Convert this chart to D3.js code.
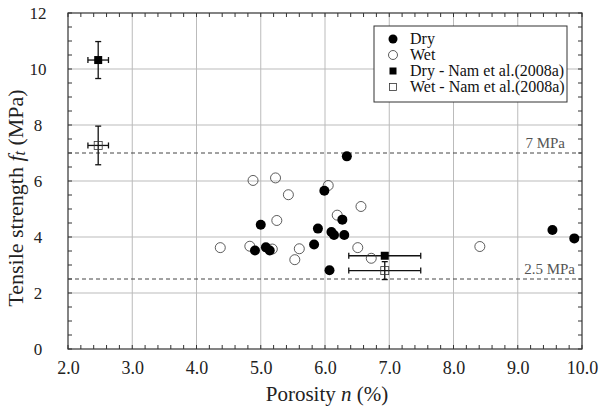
<!DOCTYPE html>
<html>
<head>
<meta charset="utf-8">
<script src="https://cdn.jsdelivr.net/npm/d3@7"></script>
<style>
body { margin: 0; background: #fff; }
</style>
</head>
<body>
<div id="chart"></div>
<script>
// porosity (%) and tensile strength (MPa)
let dryN = [6.34, 5.99, 5.0, 5.89, 6.27, 6.10, 6.14, 6.30, 5.83, 4.91, 5.08, 5.14, 6.07, 9.54, 9.88];
let dryF = [6.88, 5.65, 4.44, 4.30, 4.62, 4.18, 4.07, 4.07, 3.73, 3.52, 3.63, 3.52, 2.81, 4.25, 3.95];
let wetN = [4.88, 5.23, 6.05, 5.43, 6.56, 6.19, 5.25, 4.37, 4.83, 5.18, 5.60, 5.53, 6.51, 6.72, 8.41];
let wetF = [6.02, 6.11, 5.84, 5.51, 5.09, 4.78, 4.59, 3.62, 3.67, 3.57, 3.58, 3.19, 3.62, 3.24, 3.66];
// Nam et al. (2008a): value, x error, y error
let namDryN = [2.47, 6.93], namDryF = [10.32, 3.33], namDryEx = [0.16, 0.56], namDryEy = [0.66, 0];
let namWetN = [2.47, 6.93], namWetF = [7.27, 2.80], namWetEx = [0.16, 0.56], namWetEy = [0.69, 0.32];
let xTicks = [2, 3, 4, 5, 6, 7, 8, 9, 10];
let yTicks = [0, 2, 4, 6, 8, 10, 12];
let refLines = [7, 2.5];
let refLabels = ['7 MPa', '2.5 MPa'];
let legendLabels = ['Dry', 'Wet', 'Dry - Nam et al.(2008a)', 'Wet - Nam et al.(2008a)'];

const FONT = 'Liberation Serif';
let width = 600, height = 409;
let margin = {left: 68, right: 18, top: 13, bottom: 60};

let svg = d3.select('#chart').append('svg')
    .attr('width', width)
    .attr('height', height);

let x = d3.scaleLinear().domain([2, 10]).range([margin.left, width - margin.right]);
let y = d3.scaleLinear().domain([0, 12]).range([height - margin.bottom, margin.top]);

// grid
let grid = svg.append('g').attr('stroke', '#bbb').attr('stroke-width', 1);
grid.selectAll('.gx').data(xTicks.slice(1, -1)).enter().append('line')
    .attr('x1', d => x(d)).attr('x2', d => x(d))
    .attr('y1', y(0)).attr('y2', y(12));
grid.selectAll('.gy').data(yTicks.slice(1, -1)).enter().append('line')
    .attr('y1', d => y(d)).attr('y2', d => y(d))
    .attr('x1', x(2)).attr('x2', x(10));

// minor / major ticks pointing inward on all sides
let xMinor = d3.range(2, 10.001, 0.2);
let yMinor = d3.range(0, 12.001, 0.5);
let tk = svg.append('g').attr('stroke', '#333').attr('stroke-width', 1);
xMinor.forEach(v => {
    tk.append('line').attr('x1', x(v)).attr('x2', x(v)).attr('y1', y(0)).attr('y2', y(0) - 4);
    tk.append('line').attr('x1', x(v)).attr('x2', x(v)).attr('y1', y(12)).attr('y2', y(12) + 4);
});
yMinor.forEach(v => {
    tk.append('line').attr('y1', y(v)).attr('y2', y(v)).attr('x1', x(2)).attr('x2', x(2) + 4);
    tk.append('line').attr('y1', y(v)).attr('y2', y(v)).attr('x1', x(10)).attr('x2', x(10) - 4);
});

// axes labels via d3 axes
let xAxis = svg.append('g')
    .attr('transform', `translate(0,${y(0)})`)
    .call(d3.axisBottom(x).tickValues(xTicks).tickFormat(d3.format('.1f')).tickSize(0).tickPadding(12));
let yAxis = svg.append('g')
    .attr('transform', `translate(${x(2)},0)`)
    .call(d3.axisLeft(y).tickValues(yTicks).tickSize(0).tickPadding(20));
[xAxis, yAxis].forEach(a => {
    a.attr('font-family', null).attr('font-size', null);
    a.select('.domain').remove();
    a.selectAll('text').attr('fill', '#222')
        .attr('font-family', FONT).attr('font-size', 18);
});
yAxis.selectAll('text').attr('text-anchor', 'middle').attr('x', -30).attr('font-size', 17);

// frame
svg.append('rect')
    .attr('x', x(2)).attr('y', y(12))
    .attr('width', x(10) - x(2)).attr('height', y(0) - y(12))
    .attr('fill', 'none').attr('stroke', '#333').attr('stroke-width', 1.2);

// reference lines
svg.append('g').selectAll('line').data(refLines).enter().append('line')
    .attr('x1', x(2)).attr('x2', x(10))
    .attr('y1', d => y(d)).attr('y2', d => y(d))
    .attr('stroke', '#444').attr('stroke-width', 1)
    .attr('stroke-dasharray', '4,3');
svg.append('g').selectAll('text').data(refLines).enter().append('text')
    .attr('x', (d, i) => x(10) - (i === 0 ? 17 : 7)).attr('y', d => y(d) - 5)
    .attr('text-anchor', 'end')
    .attr('font-family', FONT)
    .attr('font-size', 15).attr('fill', '#555')
    .text((d, i) => refLabels[i]);

// error bars
function errorBars(ns, fs, ex, ey) {
    let g = svg.append('g').attr('stroke', '#111').attr('stroke-width', 1.3);
    ns.forEach((n, i) => {
        if (ex[i] > 0) {
            g.append('line').attr('x1', x(n - ex[i])).attr('x2', x(n + ex[i])).attr('y1', y(fs[i])).attr('y2', y(fs[i]));
            g.append('line').attr('x1', x(n - ex[i])).attr('x2', x(n - ex[i])).attr('y1', y(fs[i]) - 3).attr('y2', y(fs[i]) + 3);
            g.append('line').attr('x1', x(n + ex[i])).attr('x2', x(n + ex[i])).attr('y1', y(fs[i]) - 3).attr('y2', y(fs[i]) + 3);
        }
        if (ey[i] > 0) {
            g.append('line').attr('x1', x(n)).attr('x2', x(n)).attr('y1', y(fs[i] - ey[i])).attr('y2', y(fs[i] + ey[i]));
            g.append('line').attr('x1', x(n) - 3).attr('x2', x(n) + 3).attr('y1', y(fs[i] - ey[i])).attr('y2', y(fs[i] - ey[i]));
            g.append('line').attr('x1', x(n) - 3).attr('x2', x(n) + 3).attr('y1', y(fs[i] + ey[i])).attr('y2', y(fs[i] + ey[i]));
        }
    });
}
errorBars(namDryN, namDryF, namDryEx, namDryEy);
errorBars(namWetN, namWetF, namWetEx, namWetEy);

// wet points
svg.append('g').selectAll('circle').data(wetN).enter().append('circle')
    .attr('cx', d => x(d)).attr('cy', (d, i) => y(wetF[i]))
    .attr('r', 5).attr('fill', 'none').attr('stroke', '#333').attr('stroke-width', 0.8);
// dry points
svg.append('g').selectAll('circle').data(dryN).enter().append('circle')
    .attr('cx', d => x(d)).attr('cy', (d, i) => y(dryF[i]))
    .attr('r', 5).attr('fill', '#000');
// Nam squares
svg.append('g').selectAll('rect').data(namWetN).enter().append('rect')
    .attr('x', d => x(d) - 4).attr('y', (d, i) => y(namWetF[i]) - 4)
    .attr('width', 8).attr('height', 8)
    .attr('fill', 'none').attr('stroke', '#333').attr('stroke-width', 0.8);
svg.append('g').selectAll('rect').data(namDryN).enter().append('rect')
    .attr('x', d => x(d) - 4).attr('y', (d, i) => y(namDryF[i]) - 4)
    .attr('width', 8).attr('height', 8).attr('fill', '#000');

// legend
let lg = svg.append('g');
lg.append('rect').attr('x', 374).attr('y', 26).attr('width', 193).attr('height', 76)
    .attr('fill', '#fff').attr('stroke', '#333').attr('stroke-width', 1);
legendLabels.forEach((t, i) => {
    let cy = 39 + i * 16;
    if (i === 0) lg.append('circle').attr('cx', 393).attr('cy', cy).attr('r', 4.5).attr('fill', '#000');
    if (i === 1) lg.append('circle').attr('cx', 393).attr('cy', cy).attr('r', 4.5).attr('fill', 'none').attr('stroke', '#333').attr('stroke-width', 0.8);
    if (i === 2) lg.append('rect').attr('x', 389.5).attr('y', cy - 3.5).attr('width', 7).attr('height', 7).attr('fill', '#000');
    if (i === 3) lg.append('rect').attr('x', 389.5).attr('y', cy - 3.5).attr('width', 7).attr('height', 7).attr('fill', 'none').attr('stroke', '#333').attr('stroke-width', 0.8);
    lg.append('text').attr('x', 410).attr('y', cy + 5)
        .attr('font-family', FONT).attr('font-size', 16).attr('fill', '#111').text(t);
});

// axis titles
let xt = svg.append('text').attr('x', 327).attr('y', 401)
    .attr('font-family', FONT)
    .attr('text-anchor', 'middle').attr('font-size', 21).attr('fill', '#222');
xt.append('tspan').text('Porosity ');
xt.append('tspan').attr('font-style', 'italic').text('n');
xt.append('tspan').text(' (%)');

let yt = svg.append('text')
    .attr('transform', 'translate(23,198) rotate(-90)')
    .attr('font-family', FONT)
    .attr('text-anchor', 'middle').attr('font-size', 22).attr('fill', '#222');
yt.append('tspan').text('Tensile strength  ');
yt.append('tspan').attr('font-style', 'italic').text('f');
yt.append('tspan').attr('font-style', 'italic').attr('font-size', 16).attr('dy', 2).text('t');
yt.append('tspan').attr('dy', -2).text(' (MPa)');
</script>
</body>
</html>
